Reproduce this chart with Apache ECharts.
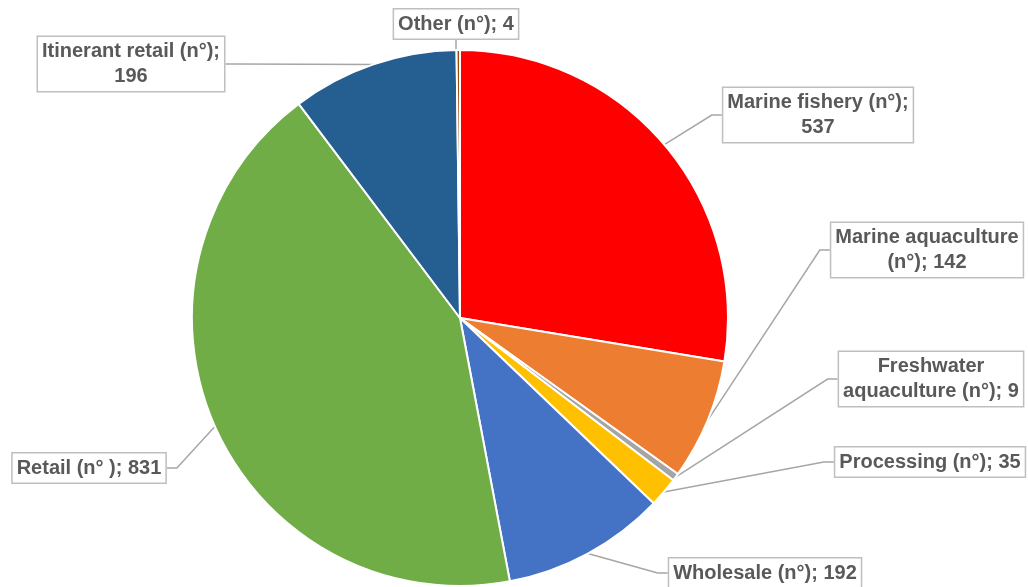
<!DOCTYPE html>
<html><head><meta charset="utf-8">
<script src="https://cdn.jsdelivr.net/npm/echarts@6/dist/echarts.min.js"></script>
<style>html,body{margin:0;padding:0;background:#fff}#c{width:1028px;height:587px}</style>
</head><body><div id="c"></div>
<script>
var categories = ['Marine fishery (n°)', 'Marine aquaculture\n(n°)', 'Freshwater\naquaculture (n°)', 'Processing (n°)', 'Wholesale (n°)', 'Retail (n° )', 'Itinerant retail (n°)', 'Other (n°)'];
var values = [537, 142, 9, 35, 192, 831, 196, 4];
var separators = [';\n', '; ', '; ', '; ', '; ', '; ', ';\n', '; '];
var colors = ['#FF0000', '#ED7D31', '#A5A5A5', '#FFC000', '#4472C4', '#70AD47', '#255E91', '#9E480E'];
// label box centres (layout only)
var labelPos = [[818,115],[927,250],[931,379],[930,462],[765,573],[89,468],[131,64],[456,24]];

var chart = echarts.init(document.getElementById('c'));
chart.setOption({
  animation: false,
  series: [{
    type: 'pie',
    center: [460, 318],
    radius: 268,
    startAngle: 90,
    clockwise: true,
    avoidLabelOverlap: false,
    itemStyle: {borderColor: '#fff', borderWidth: 2},
    label: {
      show: true,
      formatter: function (p) { return p.name + separators[p.dataIndex] + p.value; },
      fontFamily: 'Liberation Sans, Arial, sans-serif',
      fontWeight: 'bold',
      fontSize: 20,
      lineHeight: 25,
      color: '#595959',
      backgroundColor: '#fff',
      borderColor: '#BFBFBF',
      borderWidth: 1.5,
      padding: [3, 4, 1, 4],
      align: 'center'
    },
    labelLine: {show: true, length: 10, length2: 10, lineStyle: {color: '#A6A6A6', width: 1.5}},
    labelLayout: function (params) {
      var p = labelPos[params.dataIndex];
      return {x: p[0], y: p[1], align: 'center', verticalAlign: 'middle'};
    },
    data: categories.map(function (n, i) {
      return {name: n, value: values[i], itemStyle: {color: colors[i]}};
    })
  }]
});
</script></body></html>
